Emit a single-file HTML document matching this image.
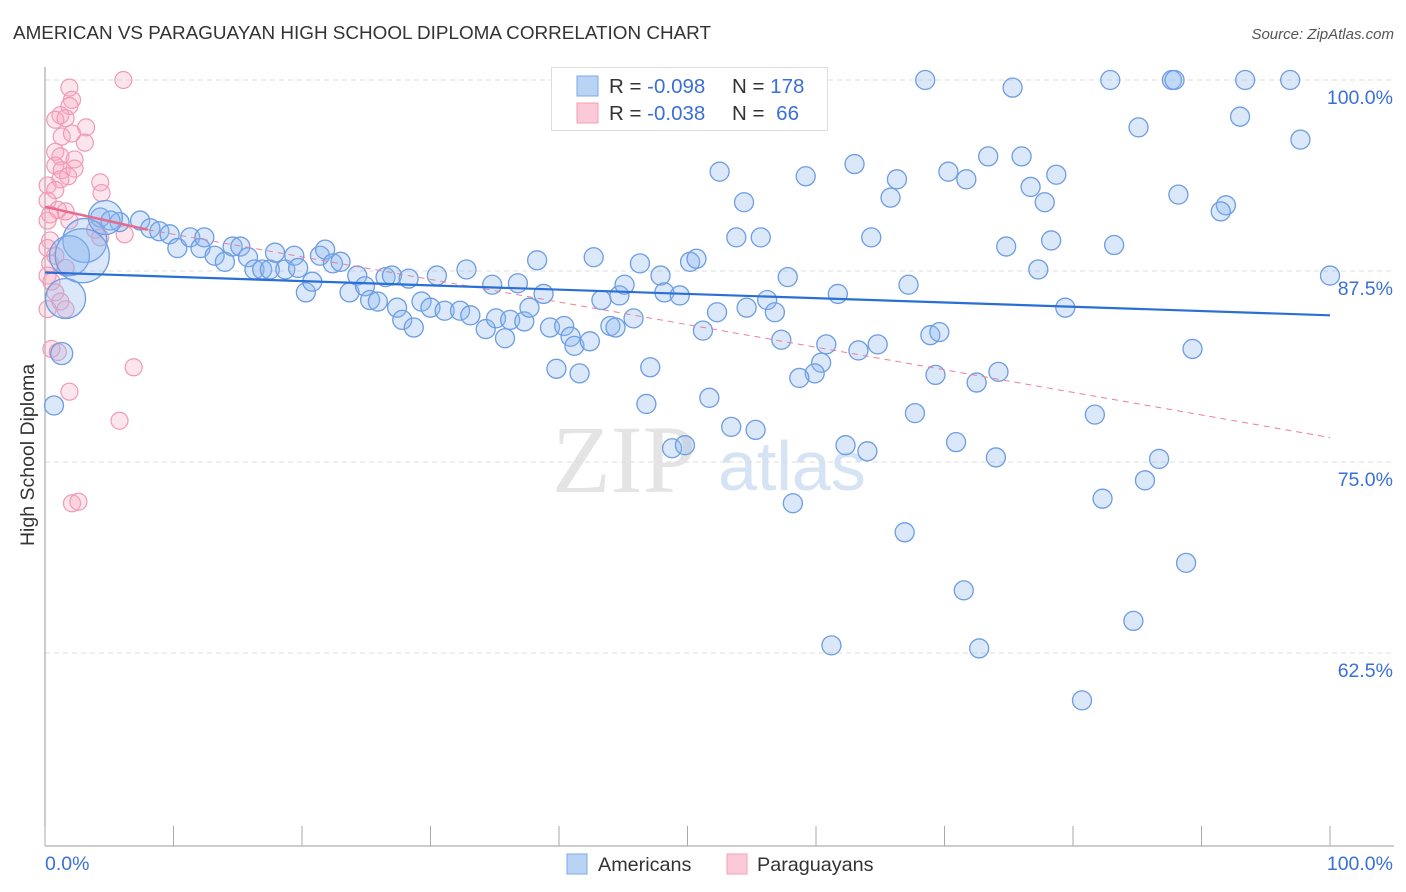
<!DOCTYPE html>
<html><head><meta charset="utf-8"><style>
html,body{margin:0;padding:0;background:#fff;}
svg{display:block;font-family:"Liberation Sans",sans-serif;}
</style></head><body>
<svg id="chart" width="1406" height="892" viewBox="0 0 1406 892">
<text x="13" y="39" font-size="18.5" fill="#333" textLength="698" lengthAdjust="spacingAndGlyphs">AMERICAN VS PARAGUAYAN HIGH SCHOOL DIPLOMA CORRELATION CHART</text>
<text x="1394" y="39" font-size="15" fill="#555" font-style="italic" text-anchor="end">Source: ZipAtlas.com</text>
<text transform="translate(34,455) rotate(-90)" font-size="19.5" fill="#333" text-anchor="middle">High School Diploma</text>
<g>
<text x="552" y="492" font-size="96" fill="#e4e4e4" font-family="Liberation Serif,serif">ZIP</text>
<text x="718" y="490" font-size="70" fill="#d6e3f5">atlas</text>
</g>
<g id="grid"></g><g id="axes"></g><g id="pinkPts"></g><g id="bluePts"></g><g id="trends"></g>
<g>
<rect x="551.5" y="67.5" width="276" height="63" fill="#fff" stroke="#ddd"/>
<rect x="577" y="76" width="21" height="20" fill="#b9d3f5" stroke="#7fa8e6"/>
<rect x="577" y="103" width="21" height="20" fill="#fbc9d7" stroke="#f2a0b8"/>
<text x="609" y="93" font-size="20.5" fill="#333">R = <tspan fill="#3a70d6">-0.098</tspan></text>
<text x="732" y="93" font-size="20.5" fill="#333">N = <tspan fill="#3a70d6">178</tspan></text>
<text x="609" y="120" font-size="20.5" fill="#333">R = <tspan fill="#3a70d6">-0.038</tspan></text>
<text x="732" y="120" font-size="20.5" fill="#333">N = <tspan fill="#3a70d6" dx="6">66</tspan></text>
</g>
<g>
<rect x="567" y="854" width="20" height="20" fill="#b9d3f5" stroke="#7fa8e6"/>
<text x="598" y="871" font-size="19.8" fill="#333">Americans</text>
<rect x="727" y="854" width="20" height="20" fill="#fbc9d7" stroke="#f2a0b8"/>
<text x="757" y="871" font-size="19.8" fill="#333">Paraguayans</text>
</g>
</svg>
<script>
const yTicks=[100,87.5,75,62.5];
const yTickLabels=["100.0%","87.5%","75.0%","62.5%"];
const xTickLabels=["0.0%","100.0%"];
const blueX=[68.5,82.9,87.7,87.9,93.4,96.9,75.3,93.0,85.1,97.7,52.5,63.0,59.2,73.4,76.0,70.3,71.7,66.3,78.7,76.7,65.8,77.8,88.2,54.4,91.9,91.5,53.8,55.7,64.3,74.8,78.3,83.2,77.3,100,57.8,67.2,79.4,61.7,56.2,54.6,56.8,52.3,51.2,57.3,60.8,63.3,64.8,68.9,69.6,60.4,59.9,58.7,69.3,72.5,74.2,89.3,51.7,67.7,81.7,53.4,55.3,70.9,62.3,64.0,74.0,86.7,85.6,82.3,58.2,66.9,88.8,71.5,84.7,61.2,72.7,80.7,
4.3,3.1,1.9,1.6,1.3,0.7,5.8,5.1,7.4,8.2,8.9,9.7,10.3,11.3,12.1,12.4,13.2,14.0,14.6,15.2,15.8,16.3,16.9,17.5,17.9,18.7,19.4,19.7,20.3,20.8,21.4,21.8,22.4,23.0,23.7,24.3,24.9,25.3,25.9,26.5,27.0,27.4,27.8,28.3,28.7,29.3,30.0,30.5,31.1,32.3,32.8,33.1,34.3,34.8,35.1,35.8,36.2,36.8,37.3,37.7,38.3,38.8,39.3,39.8,40.4,40.9,41.2,41.6,42.4,42.7,43.3,44.0,44.4,44.7,45.1,45.8,46.3,47.1,47.9,48.2,49.4,50.2,50.7,46.8,48.8,49.8,4.7,2.9];
const blueY=[100,100,100,100,100,100,99.5,97.6,96.9,96.1,94.0,94.5,93.7,95.0,95.0,94.0,93.5,93.5,93.8,93.0,92.3,92.0,92.5,92.0,91.8,91.4,89.7,89.7,89.7,89.1,89.5,89.2,87.6,87.2,87.1,86.6,85.1,86.0,85.6,85.1,84.8,84.8,83.6,83.0,82.7,82.3,82.7,83.3,83.5,81.5,80.8,80.5,80.7,80.2,80.9,82.4,79.2,78.2,78.1,77.3,77.1,76.3,76.1,75.7,75.3,75.2,73.8,72.6,72.3,70.4,68.4,66.6,64.6,63.0,62.8,59.4,
91.0,89.5,88.5,85.7,82.1,78.7,90.7,90.8,90.8,90.3,90.1,89.9,89.0,89.7,89.0,89.7,88.5,88.1,89.1,89.1,88.4,87.6,87.6,87.6,88.7,87.6,88.5,87.7,86.1,86.8,88.5,88.9,88.0,88.1,86.1,87.2,86.5,85.6,85.5,87.1,87.2,85.1,84.3,87.0,83.8,85.5,85.1,87.2,84.9,84.9,87.6,84.6,83.7,86.6,84.4,83.1,84.3,86.7,84.2,85.1,88.2,86.0,83.8,81.1,83.9,83.2,82.6,80.8,82.9,88.4,85.6,83.9,83.8,85.9,86.6,84.4,88.0,81.2,87.2,86.1,85.9,88.1,88.3,78.8,75.9,76.1,91.0,88.5];
const pinkX=[6.1,1.9,2.1,1.9,1.2,0.8,1.6,3.2,1.3,3.1,2.1,0.8,1.2,2.3,0.8,1.3,2.3,1.8,1.2,4.3,0.2,0.8,4.4,0.2,1.0,1.6,0.4,0.2,1.9,3.9,0.4,4.3,6.2,0.2,0.8,0.4,1.6,0.2,0.5,0.8,1.2,0.2,1.6,0.5,1.0,1.9,6.9,5.8,2.1,2.6];
const pinkY=[100,99.5,98.7,98.3,97.7,97.4,97.5,96.9,96.3,95.9,96.5,95.3,95.0,94.8,94.4,94.1,94.2,93.7,93.5,93.3,93.1,92.8,92.6,92.1,91.5,91.4,91.2,90.8,90.8,90.2,89.5,89.7,89.9,89.0,88.5,88.0,87.7,87.2,86.8,86.1,85.5,85.0,85.0,82.4,82.2,79.6,81.2,77.7,72.3,72.4];
const blueTrend=[[0,87.4],[100,84.6]];
const pinkTrend=[[0,91.7],[8,90.2],[100,76.6]];

const NS="http://www.w3.org/2000/svg";
const X0=45,X1=1330,Y100=80,PX_PER=191/12.5;
function sx(v){return X0+(X1-X0)*v/100;}
function sy(v){return Y100+(100-v)*PX_PER;}
function mk(tag,attrs,parent){const e=document.createElementNS(NS,tag);for(const k in attrs)e.setAttribute(k,attrs[k]);parent.appendChild(e);return e;}
const grid=document.getElementById('grid');
yTicks.forEach((t,i)=>{
  const l=mk('line',{x1:X0,x2:1394,y1:sy(t),y2:sy(t),stroke:'#ddd','stroke-dasharray':'5,4'},grid);
  
  
  const tx=mk('text',{x:1393,y:sy(t)+24,'font-size':'19.5',fill:'#3a70d6','text-anchor':'end'},grid);
  tx.textContent=yTickLabels[i];
  
  
});
const axes=document.getElementById('axes');
let a=mk('line',{x1:X0,x2:X0,y1:67,y2:846,stroke:'#999'},axes);


a=mk('line',{x1:X0,x2:1394,y1:846,y2:846,stroke:'#999'},axes);


for(let i=0;i<=10;i++){
  const t=mk('line',{x1:sx(i*10),x2:sx(i*10),y1:826,y2:846,stroke:'#aaa'},axes);
  
  
}
let xl=mk('text',{x:45,y:870,'font-size':'19.5',fill:'#3a70d6'},axes);xl.textContent=xTickLabels[0];


xl=mk('text',{x:1393,y:870,'font-size':'19.5',fill:'#3a70d6','text-anchor':'end'},axes);xl.textContent=xTickLabels[1];



const bp=document.getElementById('bluePts');
blueX.forEach((x,i)=>{
  let r=9.5;
  if(i===77) r=22; if(i===78) r=20; if(i===79) r=20; if(i===80) r=11; if(i===162) r=17; if(i===163) r=27;
  const c=mk('circle',{cx:sx(x),cy:sy(blueY[i]),r:r,fill:'rgba(140,185,240,0.32)',stroke:'#6d9de2','stroke-width':'1.3'},bp);
  
  
});
const pp=document.getElementById('pinkPts');
pinkX.forEach((x,i)=>{
  const c=mk('circle',{cx:sx(x),cy:sy(pinkY[i]),r:8.5,fill:'rgba(248,170,195,0.3)',stroke:'#f09ab4','stroke-width':'1.2'},pp);
  
  
});
const tr=document.getElementById('trends');
let ln=mk('line',{x1:sx(pinkTrend[1][0]),y1:sy(pinkTrend[1][1]),x2:sx(pinkTrend[2][0]),y2:sy(pinkTrend[2][1]),stroke:'#e8809f','stroke-width':'1','stroke-dasharray':'6,5'},tr);


ln=mk('line',{x1:sx(pinkTrend[0][0]),y1:sy(pinkTrend[0][1]),x2:sx(pinkTrend[1][0]),y2:sy(pinkTrend[1][1]),stroke:'#e56b90','stroke-width':'2.5'},tr);


ln=mk('line',{x1:sx(blueTrend[0][0]),y1:sy(blueTrend[0][1]),x2:sx(blueTrend[1][0]),y2:sy(blueTrend[1][1]),stroke:'#2a6fd6','stroke-width':'2.2'},tr);


</script>
</body></html>
